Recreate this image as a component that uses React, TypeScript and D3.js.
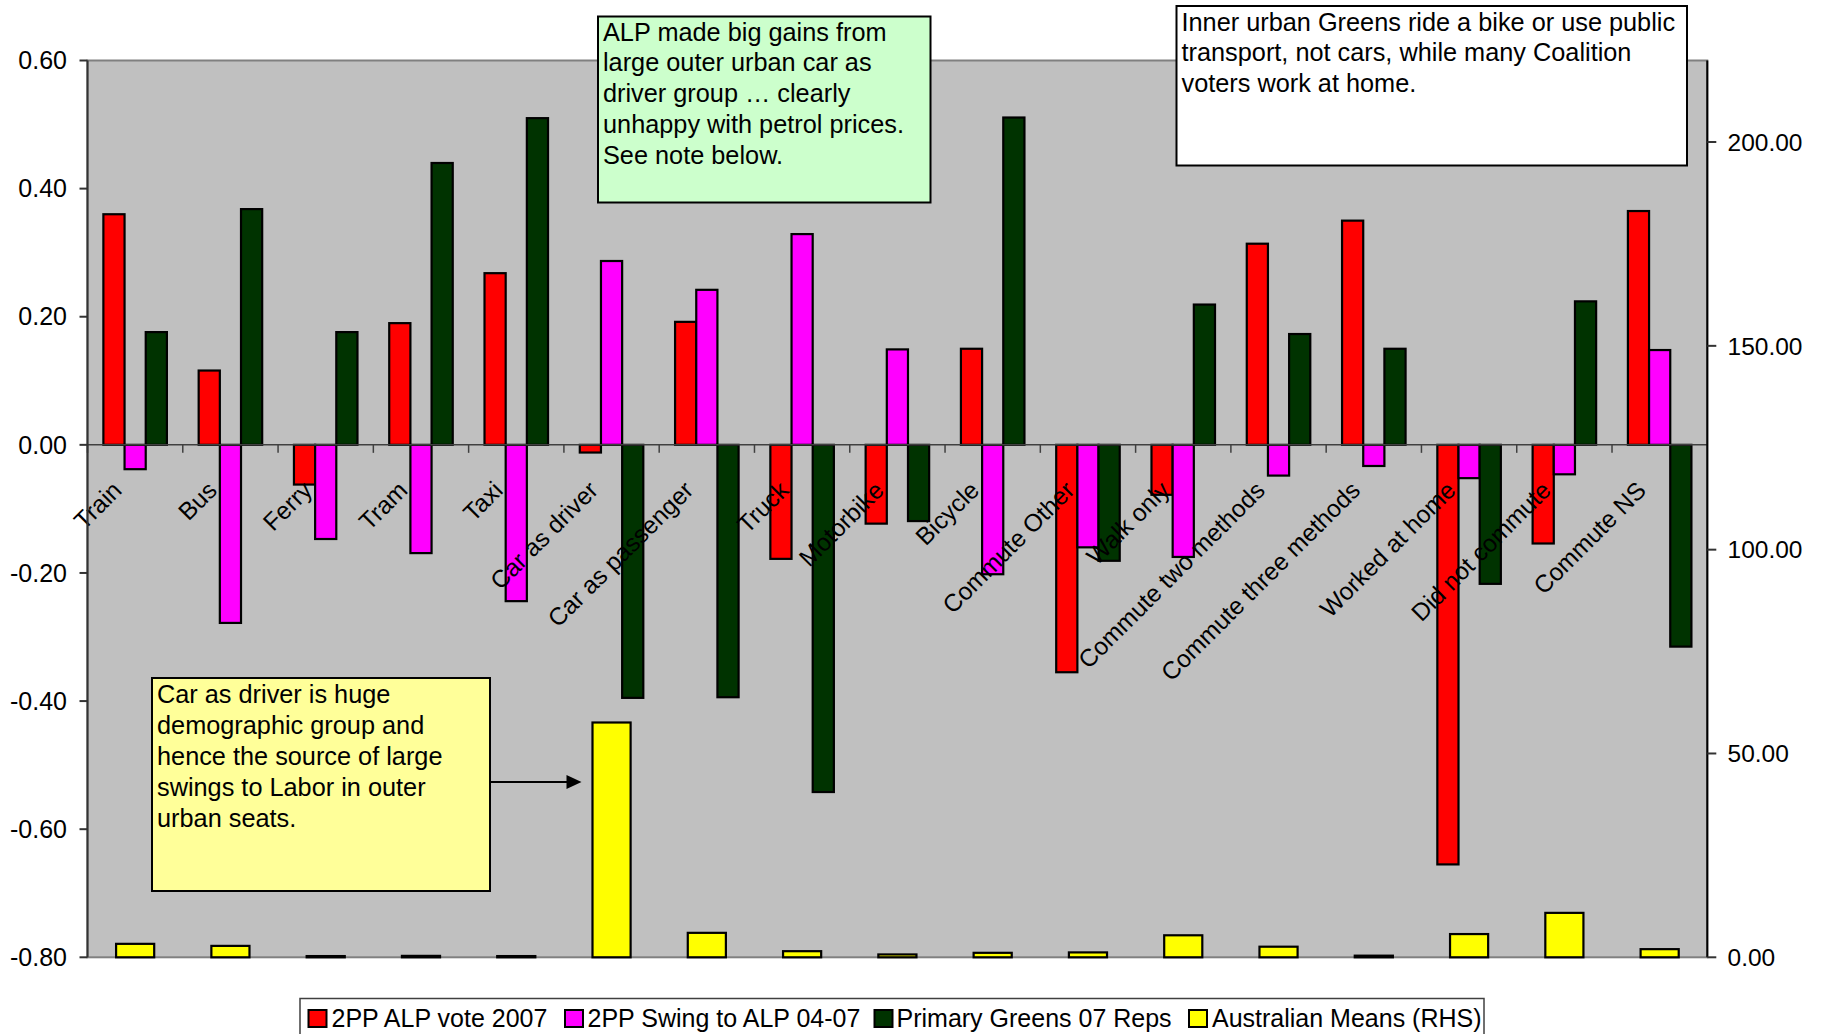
import React from "react";
import * as d3 from "d3";

// Commuting mode categories
const CATEGORIES = [
  "Train", "Bus", "Ferry", "Tram", "Taxi", "Car as driver", "Car as passenger",
  "Truck", "Motorbike", "Bicycle", "Commute Other", "Walk only",
  "Commute two methods", "Commute three methods", "Worked at home",
  "Did not commute", "Commute NS",
];

// Correlation series (left axis)
const ALP_VOTE_2007 = [0.360, 0.116, -0.062, 0.190, 0.268, -0.012, 0.192, -0.178, -0.123, 0.150, -0.355, -0.078, 0.314, 0.350, -0.655, -0.154, 0.365];
const SWING_04_07 = [-0.038, -0.278, -0.147, -0.169, -0.244, 0.287, 0.242, 0.329, 0.149, -0.202, -0.160, -0.175, -0.048, -0.033, -0.052, -0.046, 0.148];
const GREENS_07 = [0.176, 0.368, 0.176, 0.440, 0.510, -0.395, -0.394, -0.542, -0.119, 0.511, -0.181, 0.219, 0.173, 0.150, -0.217, 0.224, -0.315];

// Australian means (right axis)
const AUS_MEANS = [3.3, 2.8, 0.3, 0.35, 0.3, 57.6, 6.0, 1.5, 0.7, 1.1, 1.2, 5.4, 2.6, 0.4, 5.7, 10.9, 2.0];

const LEFT_TICKS = [0.6, 0.4, 0.2, 0, -0.2, -0.4, -0.6, -0.8];
const RIGHT_TICKS = [0, 50, 100, 150, 200];

const SERIES_NAMES = ["2PP ALP vote 2007", "2PP Swing to ALP 04-07", "Primary Greens 07 Reps", "Australian Means (RHS)"];
const SERIES_COLORS = ["#FF0000", "#FF00FF", "#003300", "#FFFF00"];

const NOTE_GREEN = [
  "ALP made big gains from",
  "large outer urban car as",
  "driver group \u2026 clearly",
  "unhappy with petrol prices.",
  "See note below.",
];
const NOTE_WHITE = [
  "Inner urban Greens ride a bike or use public",
  "transport, not cars, while many Coalition",
  "voters work at home.",
];
const NOTE_YELLOW = [
  "Car as driver is huge",
  "demographic group and",
  "hence the source of large",
  "swings to Labor in outer",
  "urban seats.",
];

const W = 1822;
const H = 1034;
const PLOT = { left: 87.5, right: 1707.3, top: 60.5, bottom: 957.3 };
const FONT = "'Liberation Sans', Arial, Helvetica, sans-serif";

export default function App() {
  const x = d3.scaleBand<string>().domain(CATEGORIES).range([PLOT.left, PLOT.right]).padding(0);
  const bw = x.bandwidth();
  const barW = bw / 4.5; // gap width 150%
  const xSub = d3.scaleBand<number>().domain([0, 1, 2]).range([0.75 * barW, 3.75 * barW]).padding(0);
  const yL = d3.scaleLinear().domain([-0.8, 0.6]).range([PLOT.bottom, PLOT.top]);
  const yR = d3.scaleLinear().domain([0, 220]).range([PLOT.bottom, PLOT.top]);
  const y0 = yL(0);

  const primary = [ALP_VOTE_2007, SWING_04_07, GREENS_07];
  const meanW = bw / 2.5;

  const carIdx = CATEGORIES.indexOf("Car as driver");
  const carBarLeft = (x(CATEGORIES[carIdx]) as number) + (bw - meanW) / 2;

  const legendItems = [
    { sq: 308.5, tx: 331.5 },
    { sq: 565, tx: 587.5 },
    { sq: 874.5, tx: 896.5 },
    { sq: 1189, tx: 1212 },
  ];

  const noteText = (lines: string[], x0: number, yFirst: number, lh: number) => (
    <text x={x0} y={yFirst} fontSize={25.3} fontFamily={FONT} fill="#000">
      {lines.map((l, i) => (
        <tspan key={i} x={x0} y={yFirst + i * lh}>{l}</tspan>
      ))}
    </text>
  );

  return (
    <div style={{ position: "absolute", left: 0, top: 0 }}>
      <svg width={W} height={H} style={{ display: "block", background: "#fff" }}>
        {/* plot area */}
        <rect x={PLOT.left} y={PLOT.top} width={PLOT.right - PLOT.left} height={PLOT.bottom - PLOT.top}
          fill="#C0C0C0" stroke="#808080" strokeWidth={2} />

        {/* primary bars */}
        {primary.map((vals, s) => (
          <g key={s}>
            {vals.map((v, i) => {
              const bx = (x(CATEGORIES[i]) as number) + (xSub(s) as number);
              const yv = yL(v);
              return (
                <rect key={i} x={bx} y={Math.min(yv, y0)} width={xSub.bandwidth()} height={Math.abs(yv - y0)}
                  fill={SERIES_COLORS[s]} stroke="#000" strokeWidth={2.2} />
              );
            })}
          </g>
        ))}

        {/* secondary bars */}
        <g>
          {AUS_MEANS.map((v, i) => {
            const bx = (x(CATEGORIES[i]) as number) + (bw - meanW) / 2;
            return (
              <rect key={i} x={bx} y={yR(v)} width={meanW} height={PLOT.bottom - yR(v)}
                fill={SERIES_COLORS[3]} stroke="#000" strokeWidth={2.2} />
            );
          })}
        </g>

        {/* category axis at zero */}
        <line x1={PLOT.left} x2={PLOT.right} y1={y0} y2={y0} stroke="#404040" strokeWidth={1.5} />
        {CATEGORIES.map((c) => (
          <line key={c} x1={(x(c) as number)} x2={(x(c) as number)} y1={y0} y2={y0 + 8} stroke="#404040" strokeWidth={1.5} />
        ))}
        {CATEGORIES.map((c) => {
          const cx = (x(c) as number) + bw / 2 - 12;
          const cy = y0 + 47;
          return (
            <text key={c} x={cx} y={cy} textAnchor="end" fontSize={24.5} fontFamily={FONT}
              transform={`rotate(-45 ${cx} ${cy})`} fill="#000">{c}</text>
          );
        })}

        {/* left axis */}
        <line x1={PLOT.left} x2={PLOT.left} y1={PLOT.top} y2={PLOT.bottom} stroke="#333" strokeWidth={2} />
        {LEFT_TICKS.map((t) => (
          <g key={t}>
            <line x1={PLOT.left - 8} x2={PLOT.left} y1={yL(t)} y2={yL(t)} stroke="#333" strokeWidth={2} />
            <text x={67} y={yL(t) + 8.7} textAnchor="end" fontSize={25} fontFamily={FONT} fill="#000">
              {t.toFixed(2)}
            </text>
          </g>
        ))}

        {/* right axis */}
        <line x1={PLOT.right} x2={PLOT.right} y1={PLOT.top} y2={PLOT.bottom} stroke="#000" strokeWidth={2} />
        {RIGHT_TICKS.map((t) => (
          <g key={t}>
            <line x1={PLOT.right} x2={PLOT.right + 9} y1={yR(t)} y2={yR(t)} stroke="#333" strokeWidth={2} />
            <text x={1727.5} y={yR(t) + 8.7} textAnchor="start" fontSize={24.5} fontFamily={FONT} fill="#000">
              {t.toFixed(2)}
            </text>
          </g>
        ))}

        {/* notes */}
        <rect x={598} y={16.5} width={332.5} height={186} fill="#CCFFCC" stroke="#000" strokeWidth={2} />
        {noteText(NOTE_GREEN, 603, 40.5, 30.8)}

        <rect x={1176.5} y={6} width={510.5} height={159.5} fill="#FFFFFF" stroke="#000" strokeWidth={2} />
        {noteText(NOTE_WHITE, 1181.5, 30.5, 30.6)}

        <rect x={152} y={678} width={338} height={213} fill="#FFFF99" stroke="#000" strokeWidth={2} />
        {noteText(NOTE_YELLOW, 157, 702.5, 31.2)}

        {/* arrow to the car-as-driver mean */}
        <line x1={490} x2={carBarLeft - 22} y1={782} y2={782} stroke="#000" strokeWidth={2} />
        <path d={`M${carBarLeft - 11},782 L${carBarLeft - 26},775 L${carBarLeft - 26},789 Z`} fill="#000" />

        {/* legend */}
        <rect x={300} y={998.5} width={1184} height={60} fill="#fff" stroke="#404040" strokeWidth={1.5} />
        {SERIES_NAMES.map((n, i) => (
          <g key={n}>
            <rect x={legendItems[i].sq} y={1010} width={18} height={17} fill={SERIES_COLORS[i]} stroke="#000" strokeWidth={2} />
            <text x={legendItems[i].tx} y={1027} fontSize={25} fontFamily={FONT} fill="#000">{n}</text>
          </g>
        ))}
      </svg>
    </div>
  );
}
